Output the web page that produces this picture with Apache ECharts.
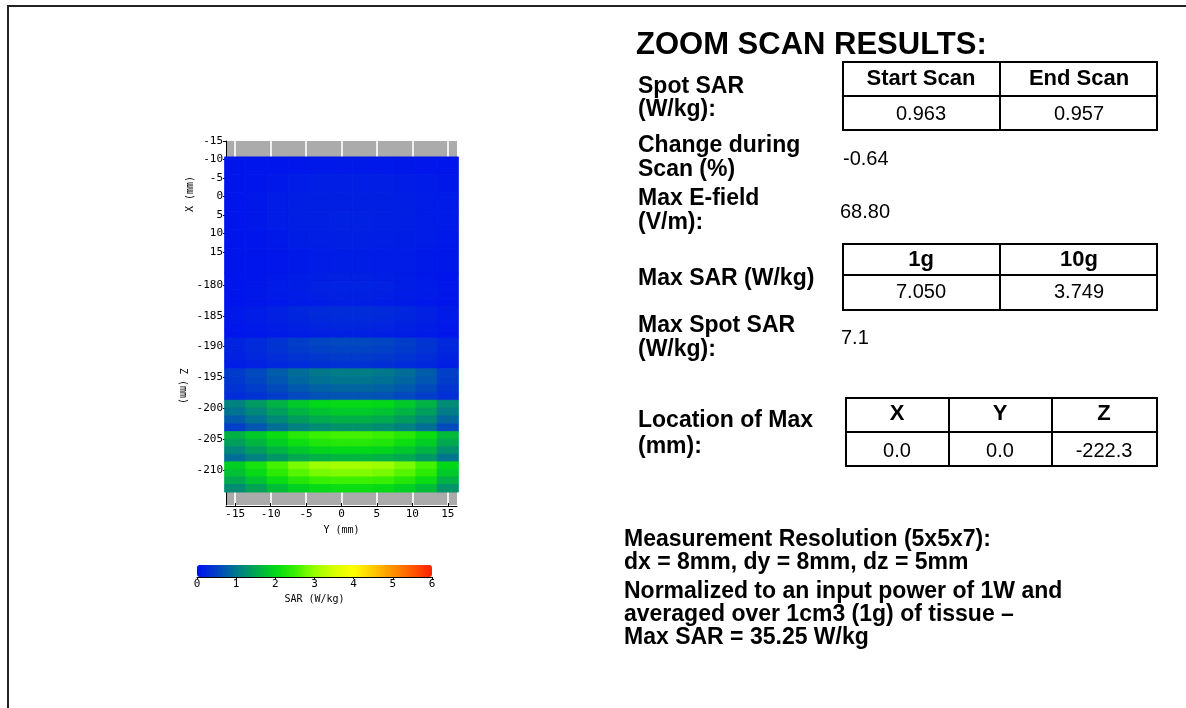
<!DOCTYPE html>
<html><head><meta charset="utf-8">
<script src="https://cdn.jsdelivr.net/npm/echarts@6/dist/echarts.min.js"></script>
<style>html,body{margin:0;padding:0;background:#fff}#c{width:1186px;height:708px}</style>
</head><body><div id="c"></div>
<script>
// ---------- data ----------
const yCenters = [-15, -12, -9, -6, -3, 0, 3, 6, 9, 12, 15];       // Y (mm) columns
const xTicks = [-15, -10, -5, 0, 5, 10, 15];                       // X / Y tick labels (mm)
const zTicks = [-210, -205, -200, -195, -190, -185, -180];          // Z tick labels (mm)
const sarTicks = [0, 1, 2, 3, 4, 5, 6];                             // colour bar ticks (W/kg)

// top X-Y plane (rows along X, mm)
const planeRowEdgesX = [-10.7, -6, -1, 4, 9, 14, 20.7];
const planeValues = [
  [0.05, 0.05, 0.05, 0.06, 0.08, 0.09, 0.09, 0.08, 0.07, 0.06, 0.05],
  [0.05, 0.05, 0.08, 0.12, 0.15, 0.15, 0.15, 0.15, 0.13, 0.10, 0.07],
  [0.05, 0.07, 0.12, 0.15, 0.16, 0.16, 0.16, 0.16, 0.15, 0.13, 0.10],
  [0.05, 0.07, 0.12, 0.15, 0.16, 0.17, 0.17, 0.16, 0.15, 0.13, 0.10],
  [0.05, 0.05, 0.09, 0.14, 0.15, 0.16, 0.16, 0.15, 0.14, 0.12, 0.08],
  [0.05, 0.05, 0.06, 0.09, 0.13, 0.14, 0.14, 0.13, 0.12, 0.09, 0.07]
];

// Z slices (edges in mm) and SAR values (W/kg), 4 sub-rows per slice
const sliceEdgesZ = [-178.05, -183.5, -188.6, -193.6, -198.7, -203.8, -208.7, -213.6];
const sliceValues = [
  [[0.05,0.05,0.08,0.12,0.15,0.17,0.17,0.15,0.12,0.08,0.05],
   [0.05,0.07,0.10,0.14,0.17,0.19,0.19,0.17,0.14,0.10,0.06],
   [0.05,0.07,0.10,0.13,0.16,0.18,0.18,0.16,0.13,0.10,0.06],
   [0.04,0.06,0.08,0.11,0.13,0.15,0.15,0.13,0.11,0.08,0.05]],
  [[0.08,0.12,0.18,0.24,0.28,0.30,0.30,0.28,0.24,0.18,0.10],
   [0.08,0.12,0.17,0.22,0.26,0.28,0.28,0.26,0.22,0.17,0.10],
   [0.06,0.10,0.14,0.18,0.21,0.23,0.23,0.21,0.18,0.14,0.08],
   [0.05,0.08,0.11,0.14,0.16,0.18,0.18,0.16,0.14,0.11,0.06]],
  [[0.20,0.28,0.38,0.48,0.55,0.58,0.58,0.55,0.48,0.38,0.25],
   [0.20,0.27,0.36,0.45,0.51,0.54,0.54,0.51,0.45,0.36,0.24],
   [0.17,0.23,0.30,0.37,0.42,0.45,0.45,0.42,0.37,0.30,0.20],
   [0.12,0.17,0.23,0.28,0.32,0.34,0.34,0.32,0.28,0.23,0.15]],
  [[0.45,0.58,0.75,0.90,1.00,1.05,1.05,1.00,0.90,0.75,0.50],
   [0.42,0.55,0.70,0.84,0.94,0.98,0.98,0.94,0.84,0.70,0.48],
   [0.36,0.47,0.60,0.72,0.80,0.84,0.84,0.80,0.72,0.60,0.40],
   [0.30,0.38,0.48,0.58,0.65,0.68,0.68,0.65,0.58,0.48,0.33]],
  [[1.10,1.35,1.60,1.85,2.00,2.05,2.05,2.00,1.85,1.60,1.20],
   [0.95,1.15,1.40,1.62,1.78,1.85,1.85,1.78,1.62,1.40,1.05],
   [0.75,0.95,1.18,1.38,1.52,1.58,1.58,1.52,1.38,1.18,0.85],
   [0.50,0.70,0.92,1.10,1.22,1.28,1.28,1.22,1.10,0.92,0.60]],
  [[1.60,1.85,2.10,2.35,2.50,2.55,2.55,2.50,2.35,2.10,1.70],
   [1.40,1.65,1.90,2.12,2.28,2.33,2.33,2.28,2.12,1.90,1.50],
   [1.15,1.38,1.62,1.82,1.96,2.00,2.00,1.96,1.82,1.62,1.25],
   [0.90,1.10,1.32,1.50,1.60,1.65,1.65,1.60,1.50,1.32,0.98]],
  [[1.90,2.20,2.55,2.85,3.05,3.10,3.10,3.05,2.85,2.55,2.00],
   [1.75,2.05,2.38,2.65,2.82,2.88,2.88,2.82,2.65,2.38,1.85],
   [1.50,1.78,2.08,2.32,2.48,2.52,2.52,2.48,2.32,2.08,1.60],
   [1.20,1.45,1.72,1.92,2.05,2.10,2.10,2.05,1.92,1.72,1.30]]
];

// results panel
const scanHeaders = ['Start Scan', 'End Scan'];
const spotSAR = ['0.963', '0.957'];
const changeDuringScan = '-0.64';
const maxEField = '68.80';
const massHeaders = ['1g', '10g'];
const maxSAR = ['7.050', '3.749'];
const maxSpotSAR = '7.1';
const locHeaders = ['X', 'Y', 'Z'];
const locValues = ['0.0', '0.0', '-222.3'];

// ---------- build ----------
const colorStops = ['#0010f0','#0040c8','#00788c','#00a850','#00d818','#38f000','#98ff00',
                    '#d8ff00','#ffff00','#ffc800','#ff9000','#ff5800','#ff2000'];
const hw = (yCenters[1] - yCenters[0]) / 2;

const planeData = [];
planeValues.forEach((row, r) => row.forEach((v, c) => {
  planeData.push([yCenters[c], planeRowEdgesX[r], planeRowEdgesX[r + 1], v]);
}));
const sliceData = [];
sliceValues.forEach((slice, s) => {
  const e0 = sliceEdgesZ[s], e1 = sliceEdgesZ[s + 1], n = slice.length;
  slice.forEach((row, r) => row.forEach((v, c) => {
    sliceData.push([yCenters[c], e0 + (e1 - e0) * r / n, e0 + (e1 - e0) * (r + 1) / n, v]);
  }));
});

function cell(params, api) {
  const y = api.value(0), a = api.value(1), b = api.value(2);
  const p1 = api.coord([y - hw, a]), p2 = api.coord([y + hw, b]);
  const col = api.visual('color');
  return {
    type: 'rect',
    shape: { x: Math.min(p1[0], p2[0]), y: Math.min(p1[1], p2[1]),
             width: Math.abs(p2[0] - p1[0]), height: Math.abs(p2[1] - p1[1]) },
    style: { fill: col, stroke: col, lineWidth: 0.8 }
  };
}

const MONO = '"DejaVu Sans Mono", monospace';
const SANS = '"Liberation Sans", Arial, sans-serif';
const FB = 'bold 23px ' + SANS, FH = 'bold 22px ' + SANS, FR = '20px ' + SANS, FT = 'bold 31px ' + SANS;
const axisLbl = { fontFamily: MONO, fontSize: 11, color: '#000' };
const axisName = { fontFamily: MONO, fontSize: 10, color: '#000' };

function txt(text, x, y, font, align, rot) {
  return { type: 'text', x: x, y: y, rotation: rot || 0, silent: true,
    style: { text: text, font: font, fill: '#000', textAlign: align || 'left', textVerticalAlign: 'middle' } };
}
function box(x, y, w, h) {
  return { type: 'rect', silent: true, shape: { x: x, y: y, width: w, height: h },
    style: { fill: 'none', stroke: '#000', lineWidth: 2 } };
}
function ln(x1, y1, x2, y2, w, c) {
  return { type: 'line', silent: true, shape: { x1: x1, y1: y1, x2: x2, y2: y2 },
    style: { stroke: c || '#000', lineWidth: w || 2 } };
}

const g = [
  ln(7, 6, 1186, 6, 2, '#222'), ln(8, 5, 8, 708, 2, '#222'),
  txt('X (mm)', 190, 194, '10px ' + MONO, 'center', Math.PI / 2),
  txt('Z (mm)', 183, 386, '10px ' + MONO, 'center', -Math.PI / 2),
  txt('ZOOM SCAN RESULTS:', 636, 45, FT),
  txt('Spot SAR', 638, 87, FB), txt('(W/kg):', 638, 110, FB),
  box(843, 62, 314, 68), ln(1000, 62, 1000, 130), ln(843, 96, 1157, 96),
  txt(scanHeaders[0], 921, 79, FH, 'center'), txt(scanHeaders[1], 1079, 79, FH, 'center'),
  txt(spotSAR[0], 921, 114, FR, 'center'), txt(spotSAR[1], 1079, 114, FR, 'center'),
  txt('Change during', 638, 146, FB), txt('Scan (%)', 638, 170, FB),
  txt(changeDuringScan, 843, 159, FR),
  txt('Max E-field', 638, 199, FB), txt('(V/m):', 638, 223, FB),
  txt(maxEField, 840, 212, FR),
  box(843, 244, 314, 66), ln(1000, 244, 1000, 310), ln(843, 275, 1157, 275),
  txt(massHeaders[0], 921, 260, FH, 'center'), txt(massHeaders[1], 1079, 260, FH, 'center'),
  txt(maxSAR[0], 921, 292, FR, 'center'), txt(maxSAR[1], 1079, 292, FR, 'center'),
  txt('Max SAR (W/kg)', 638, 279, FB),
  txt('Max Spot SAR', 638, 326, FB), txt('(W/kg):', 638, 350, FB),
  txt(maxSpotSAR, 841, 338, FR),
  box(846, 398, 311, 68), ln(949, 398, 949, 466), ln(1052, 398, 1052, 466), ln(846, 432, 1157, 432),
  txt(locHeaders[0], 897, 414, FH, 'center'), txt(locHeaders[1], 1000, 414, FH, 'center'), txt(locHeaders[2], 1104, 414, FH, 'center'),
  txt(locValues[0], 897, 451, FR, 'center'), txt(locValues[1], 1000, 451, FR, 'center'), txt(locValues[2], 1104, 451, FR, 'center'),
  txt('Location of Max', 638, 421, FB), txt('(mm):', 638, 447, FB),
  txt('Measurement Resolution (5x5x7):', 624, 540, FB),
  txt('dx = 8mm, dy = 8mm, dz = 5mm', 624, 563, FB),
  txt('Normalized to an input power of 1W and', 624, 592, FB),
  txt('averaged over 1cm3 (1g) of tissue \u2013', 624, 615, FB),
  txt('Max SAR = 35.25 W/kg', 624, 638, FB)
];

const chart = echarts.init(document.getElementById('c'), null, { renderer: 'canvas' });
chart.setOption({
  animation: false,
  backgroundColor: '#fff',
  grid: [
    { left: 226, top: 141, width: 231, height: 132, show: true, backgroundColor: '#ababab', borderWidth: 0 },
    { left: 226, top: 273, width: 231, height: 232, show: true, backgroundColor: '#ababab', borderWidth: 0 },
    { left: 197, top: 565, width: 235, height: 12, show: false }
  ],
  xAxis: [
    { gridIndex: 0, type: 'value', min: -16.3, max: 16.3,
      axisLine: { show: false }, axisTick: { show: false, customValues: xTicks },
      axisLabel: { show: false, customValues: xTicks },
      splitLine: { show: true, lineStyle: { color: '#f0f0f0', width: 2 } } },
    { gridIndex: 1, type: 'value', min: -16.3, max: 16.3, position: 'bottom', offset: 1,
      axisLine: { show: true, onZero: false, lineStyle: { color: '#000', width: 1 } },
      axisTick: { show: true, inside: true, length: 3, customValues: xTicks, lineStyle: { color: '#000' } },
      axisLabel: Object.assign({ customValues: xTicks, margin: 3 }, axisLbl),
      splitLine: { show: true, lineStyle: { color: '#f0f0f0', width: 2 } },
      name: 'Y (mm)', nameLocation: 'middle', nameGap: 19, nameTextStyle: axisName },
    { gridIndex: 2, type: 'value', min: 0, max: 6, interval: 1,
      axisLine: { show: true, lineStyle: { color: '#000', width: 1 } },
      axisTick: { show: true, length: 2, lineStyle: { color: '#000' } },
      axisLabel: Object.assign({ margin: 2, customValues: sarTicks }, axisLbl),
      splitLine: { show: false },
      name: 'SAR (W/kg)', nameLocation: 'middle', nameGap: 17, nameTextStyle: axisName }
  ],
  yAxis: [
    { gridIndex: 0, type: 'value', min: -15, max: 20.68, inverse: true,
      axisLine: { show: true, onZero: false, lineStyle: { color: '#000', width: 1 } },
      axisTick: { show: true, length: 3, customValues: xTicks, lineStyle: { color: '#000' } },
      axisLabel: Object.assign({ customValues: xTicks, margin: 3 }, axisLbl),
      splitLine: { show: false } },
    { gridIndex: 1, type: 'value', min: -215.7, max: -178.05,
      axisLine: { show: true, onZero: false, lineStyle: { color: '#000', width: 1 } },
      axisTick: { show: true, length: 3, customValues: zTicks, lineStyle: { color: '#000' } },
      axisLabel: Object.assign({ customValues: zTicks, margin: 3 }, axisLbl),
      splitLine: { show: false } },
    { gridIndex: 2, type: 'value', min: 0, max: 1, show: false }
  ],
  visualMap: {
    type: 'continuous', min: 0, max: 6, dimension: 3, seriesIndex: [0, 1],
    orient: 'horizontal', left: 197, top: 565, itemWidth: 12, itemHeight: 235,
    calculable: false, padding: 0, text: null, hoverLink: false,
    inRange: { color: colorStops }
  },
  series: [
    { type: 'custom', xAxisIndex: 0, yAxisIndex: 0, renderItem: cell, data: planeData, silent: true, clip: false },
    { type: 'custom', xAxisIndex: 1, yAxisIndex: 1, renderItem: cell, data: sliceData, silent: true, clip: false }
  ],
  graphic: { elements: g }
});
</script>
</body></html>
